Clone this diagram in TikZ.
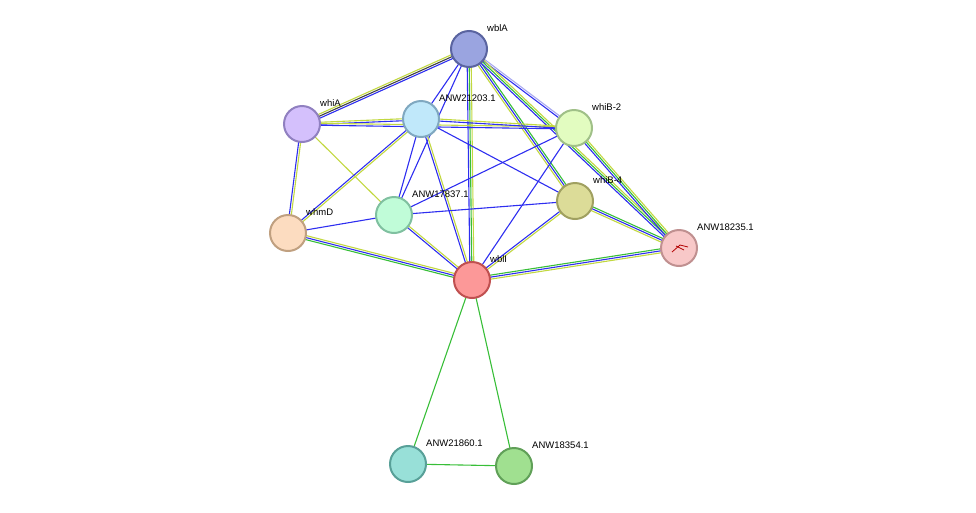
\documentclass[tikz,border=0pt]{standalone}
\usepackage{fontspec}
\setmainfont{Liberation Sans}
\usetikzlibrary{calc}
\definecolor{eb}{HTML}{2E2EF0}
\definecolor{ey}{HTML}{C2D840}
\definecolor{eg}{HTML}{38BE38}
\definecolor{ek}{HTML}{404040}
\definecolor{el}{HTML}{A8A8F0}
\tikzset{
  prot/.style={circle,minimum size=36pt,inner sep=0pt,line width=2pt},
  lab/.style={anchor=west,font=\fontsize{9.5}{11}\selectfont,inner sep=0pt},
  ln/.style={line width=1.1pt}
}
\newcommand\ed[3]{%
  \foreach \c [count=\i] in {#3} {%
    \pgfmathsetmacro\n{0}%
  }%
  \foreach \c [count=\i] in {#3} {%
    \pgfmathsetmacro\o{(\i-(\n+1)/2)*2}%
    \draw[ln,\c] ($(#1)!\o pt!90:(#2)$) -- ($(#2)!\o pt!-90:(#1)$);
  }%
}
\newcommand\edg[4]{% a b count colors
  \foreach \c [count=\i] in {#4} {%
    \pgfmathsetmacro\o{(\i-(#3+1)/2)*2}%
    \draw[ln,\c] ($(#1)!\o pt!90:(#2)$) -- ($(#2)!\o pt!-90:(#1)$);
  }%
}
\begin{document}
\begin{tikzpicture}[x=1pt,y=-1pt]
\useasboundingbox (0,0) rectangle (976,512);
\coordinate (wblA) at (469,49);
\coordinate (whiA) at (302,124);
\coordinate (a212) at (421,119);
\coordinate (whiB2) at (574,128);
\coordinate (whiB4) at (575,201);
\coordinate (a178) at (394,215);
\coordinate (whmD) at (288,233);
\coordinate (wblI) at (472,280);
\coordinate (a182) at (679,248);
\coordinate (a218) at (408,464);
\coordinate (a183) at (514,466);
\edg{wblA}{whiA}{3}{ey,ek,eb}
\edg{wblA}{a212}{1}{eb}
\edg{wblA}{a178}{1}{eb}
\edg{wblA}{wblI}{3}{eb,eg,ey}
\edg{wblA}{whiB2}{2}{eb,el}
\edg{wblA}{whiB4}{3}{ey,eb,eg}
\edg{wblA}{a182}{3}{eb,eg,ey}
\edg{whiA}{a212}{2}{eb,ey}
\edg{whiA}{whiB2}{2}{eb,ey}
\edg{whiA}{whmD}{2}{eb,ey}
\edg{whiA}{a178}{1}{ey}
\edg{a212}{whiB2}{2}{eb,ey}
\edg{a212}{whiB4}{1}{eb}
\edg{a212}{a178}{1}{eb}
\edg{a212}{whmD}{2}{eb,ey}
\edg{a212}{wblI}{2}{eb,ey}
\edg{whiB2}{a178}{1}{eb}
\edg{whiB2}{wblI}{1}{eb}
\edg{whiB2}{a182}{3}{eb,eg,ey}
\edg{a178}{whiB4}{1}{eb}
\edg{a178}{wblI}{2}{eb,ey}
\edg{whmD}{a178}{1}{eb}
\edg{whmD}{wblI}{3}{eg,eb,ey}
\edg{whiB4}{wblI}{2}{eb,ey}
\edg{whiB4}{a182}{3}{ey,eb,eg}
\edg{wblI}{a182}{3}{ey,eb,eg}
\edg{wblI}{a218}{1}{eg}
\edg{wblI}{a183}{1}{eg}
\edg{a218}{a183}{1}{eg}
\node[prot,fill={rgb,255:red,154;green,164;blue,224},draw={rgb,255:red,90;green,100;blue,160}] (nwblA) at (wblA) {};
\node[prot,fill={rgb,255:red,212;green,192;blue,252},draw={rgb,255:red,144;green,128;blue,192}] (nwhiA) at (whiA) {};
\node[prot,fill={rgb,255:red,192;green,232;blue,250},draw={rgb,255:red,128;green,168;blue,192}] (na212) at (a212) {};
\node[prot,fill={rgb,255:red,226;green,252;blue,192},draw={rgb,255:red,160;green,192;blue,136}] (nwhiB2) at (whiB2) {};
\node[prot,fill={rgb,255:red,220;green,220;blue,152},draw={rgb,255:red,160;green,160;blue,96}] (nwhiB4) at (whiB4) {};
\node[prot,fill={rgb,255:red,192;green,252;blue,216},draw={rgb,255:red,128;green,192;blue,160}] (na178) at (a178) {};
\node[prot,fill={rgb,255:red,252;green,220;blue,192},draw={rgb,255:red,192;green,160;blue,128}] (nwhmD) at (whmD) {};
\node[prot,fill={rgb,255:red,252;green,152;blue,152},draw={rgb,255:red,192;green,80;blue,80}] (nwblI) at (wblI) {};
\node[prot,fill={rgb,255:red,248;green,200;blue,200},draw={rgb,255:red,192;green,144;blue,144}] (na182) at (a182) {};
\node[prot,fill={rgb,255:red,152;green,224;blue,216},draw={rgb,255:red,88;green,160;blue,152}] (na218) at (a218) {};
\node[prot,fill={rgb,255:red,160;green,224;blue,144},draw={rgb,255:red,96;green,160;blue,88}] (na183) at (a183) {};
\draw[red!70!black,line width=0.8pt] (672,252) -- (680,245) -- (688,247) (676,246) -- (684,250);
\node[lab] (lwblA) at (487,28) {wblA};
\node[lab] (lwhiA) at (320,103) {whiA};
\node[lab] (la212) at (439,98) {ANW21203.1};
\node[lab] (lwhiB2) at (592,107) {whiB-2};
\node[lab] (lwhiB4) at (593,180) {whiB-4};
\node[lab] (la178) at (412,194) {ANW17837.1};
\node[lab] (lwhmD) at (306,212) {whmD};
\node[lab] (lwblI) at (490,259) {wblI};
\node[lab] (la182) at (697,227) {ANW18235.1};
\node[lab] (la218) at (426,443) {ANW21860.1};
\node[lab] (la183) at (532,445) {ANW18354.1};
\end{tikzpicture}
\end{document}
